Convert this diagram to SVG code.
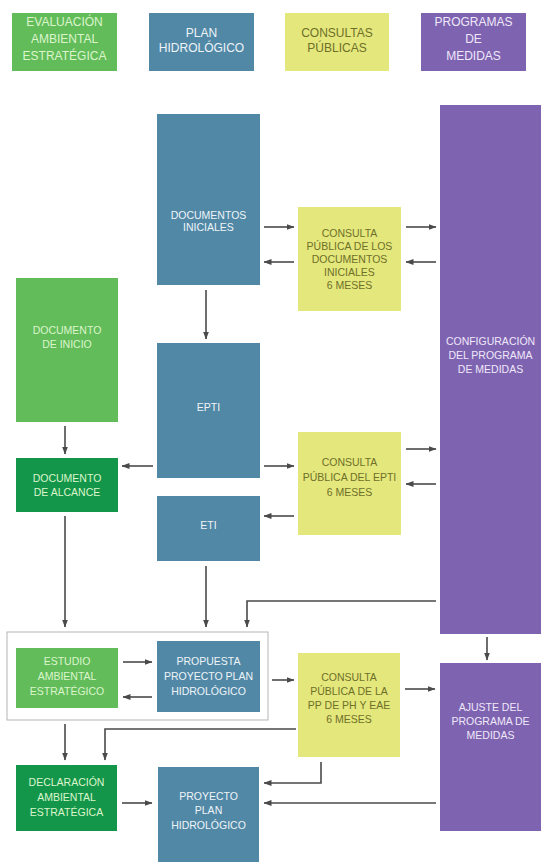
<svg xmlns="http://www.w3.org/2000/svg" width="541" height="865" viewBox="0 0 541 865">
<defs>
<marker id="ah" markerUnits="userSpaceOnUse" markerWidth="8" markerHeight="6" refX="7.5" refY="3" orient="auto">
<path d="M0,0 L8,3 L0,6 z" fill="#4a4a4a"/>
</marker>
<style>
.lg{fill:#62bc5a}
.dg{fill:#14964a}
.bl{fill:#5188a6}
.ye{fill:#e4e77c}
.pu{fill:#7e63b0}
text{font-family:"Liberation Sans",Arial,sans-serif;font-size:10.5px;text-anchor:middle}
.h{font-size:12px}
.tg{fill:#dcf5cc}
.tb{fill:#eef4f8}
.ty{fill:#6e7029}
.tp{fill:#efe8fa}
.c{fill:none;stroke:#4a4a4a;stroke-width:1.6}
.a{marker-end:url(#ah)}
</style>
</defs>
<rect width="541" height="865" fill="#ffffff"/>

<g id="hdr-eae"><rect class="lg" x="12" y="13" width="105" height="58"/>
<text class="h tg" x="64.5" y="26">EVALUACIÓN</text><text class="h tg" x="64.5" y="43">AMBIENTAL</text><text class="h tg" x="64.5" y="60">ESTRATÉGICA</text></g>
<g id="hdr-ph"><rect class="bl" x="149" y="13" width="105" height="58"/>
<text class="h tb" x="201.5" y="37">PLAN</text><text class="h tb" x="201.5" y="52">HIDROLÓGICO</text></g>
<g id="hdr-cp"><rect class="ye" x="285" y="13" width="104" height="58"/>
<text class="h ty" x="337" y="37">CONSULTAS</text><text class="h ty" x="337" y="52">PÚBLICAS</text></g>
<g id="hdr-pm"><rect class="pu" x="421" y="13" width="105" height="58"/>
<text class="h tp" x="473.5" y="26">PROGRAMAS</text><text class="h tp" x="473.5" y="43">DE</text><text class="h tp" x="473.5" y="60">MEDIDAS</text></g>

<g id="frame"><rect x="7" y="632" width="261" height="88" fill="none" stroke="#b5b5b5" stroke-width="1"/></g>

<g id="doc-iniciales"><rect class="bl" x="157" y="114" width="103" height="171"/>
<text class="tb" x="208.5" y="219">DOCUMENTOS</text><text class="tb" x="208.5" y="231">INICIALES</text></g>
<g id="consulta-docs"><rect class="ye" x="298" y="207" width="103" height="104"/>
<text class="ty" x="349.5" y="237">CONSULTA</text><text class="ty" x="349.5" y="250">PÚBLICA DE LOS</text><text class="ty" x="349.5" y="263">DOCUMENTOS</text><text class="ty" x="349.5" y="276">INICIALES</text><text class="ty" x="349.5" y="289">6 MESES</text></g>
<g id="config"><rect class="pu" x="440" y="105" width="101" height="529"/>
<text class="tp" x="490.5" y="345">CONFIGURACIÓN</text><text class="tp" x="490.5" y="359">DEL PROGRAMA</text><text class="tp" x="490.5" y="373">DE MEDIDAS</text></g>
<g id="doc-inicio"><rect class="lg" x="16" y="278" width="102" height="144"/>
<text class="tg" x="67" y="334">DOCUMENTO</text><text class="tg" x="67" y="348">DE INICIO</text></g>
<g id="epti"><rect class="bl" x="157" y="343" width="103" height="135"/>
<text class="tb" x="208.5" y="411">EPTI</text></g>
<g id="doc-alcance"><rect class="dg" x="16" y="458" width="102" height="54"/>
<text class="tg" x="67" y="482">DOCUMENTO</text><text class="tg" x="67" y="496">DE ALCANCE</text></g>
<g id="consulta-epti"><rect class="ye" x="298" y="432" width="103" height="103"/>
<text class="ty" x="349.5" y="466">CONSULTA</text><text class="ty" x="349.5" y="481">PÚBLICA DEL EPTI</text><text class="ty" x="349.5" y="496">6 MESES</text></g>
<g id="eti"><rect class="bl" x="157" y="496" width="103" height="65"/>
<text class="tb" x="208.5" y="529">ETI</text></g>
<g id="estudio"><rect class="lg" x="16" y="648" width="102" height="60"/>
<text class="tg" x="67" y="665">ESTUDIO</text><text class="tg" x="67" y="680">AMBIENTAL</text><text class="tg" x="67" y="695">ESTRATÉGICO</text></g>
<g id="propuesta"><rect class="bl" x="157" y="641" width="103" height="71"/>
<text class="tb" x="208.5" y="665">PROPUESTA</text><text class="tb" x="208.5" y="680">PROYECTO PLAN</text><text class="tb" x="208.5" y="695">HIDROLÓGICO</text></g>
<g id="consulta-pp"><rect class="ye" x="298" y="653" width="102" height="104"/>
<text class="ty" x="349" y="681">CONSULTA</text><text class="ty" x="349" y="695">PÚBLICA DE LA</text><text class="ty" x="349" y="709">PP DE PH Y EAE</text><text class="ty" x="349" y="723">6 MESES</text></g>
<g id="ajuste"><rect class="pu" x="440" y="663" width="101" height="168"/>
<text class="tp" x="490.5" y="711">AJUSTE DEL</text><text class="tp" x="490.5" y="725">PROGRAMA DE</text><text class="tp" x="490.5" y="739">MEDIDAS</text></g>
<g id="declaracion"><rect class="dg" x="16" y="765" width="101" height="66"/>
<text class="tg" x="66.5" y="786">DECLARACIÓN</text><text class="tg" x="66.5" y="801">AMBIENTAL</text><text class="tg" x="66.5" y="816">ESTRATÉGICA</text></g>
<g id="proyecto"><rect class="bl" x="158" y="767" width="101" height="95"/>
<text class="tb" x="208.5" y="800">PROYECTO</text><text class="tb" x="208.5" y="814">PLAN</text><text class="tb" x="208.5" y="829">HIDROLÓGICO</text></g>

<g id="connectors">
<path class="c a" d="M264,227 H294"/>
<path class="c a" d="M294,262 H264"/>
<path class="c a" d="M406,227 H436"/>
<path class="c a" d="M436,262 H406"/>
<path class="c a" d="M206,290 V339"/>
<path class="c a" d="M65,426 V454"/>
<path class="c a" d="M153,466 H122"/>
<path class="c a" d="M264,466 H294"/>
<path class="c a" d="M294,516 H264"/>
<path class="c a" d="M406,449 H436"/>
<path class="c a" d="M436,484 H406"/>
<path class="c a" d="M65,516 V627"/>
<path class="c a" d="M206,566 V627"/>
<path class="c a" d="M436,601 H247 V627"/>
<path class="c a" d="M487,637 V660"/>
<path class="c a" d="M123,662 H152"/>
<path class="c a" d="M152,697 H123"/>
<path class="c a" d="M272,680 H294"/>
<path class="c a" d="M405,689 H435"/>
<path class="c a" d="M296,729 H105 V760"/>
<path class="c a" d="M65,724 V760"/>
<path class="c a" d="M321,762 V783 H264"/>
<path class="c a" d="M436,803 H264"/>
<path class="c a" d="M122,803 H152"/>
</g>
</svg>
